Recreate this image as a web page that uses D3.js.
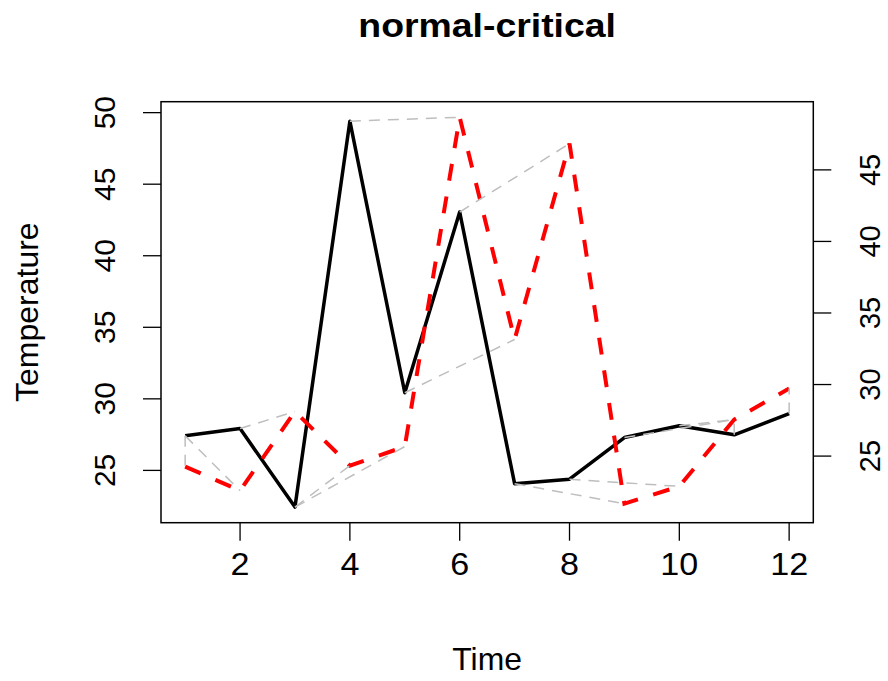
<!DOCTYPE html>
<html>
<head>
<meta charset="utf-8">
<script src="https://cdn.jsdelivr.net/npm/d3@7"></script>
<style>
    body { margin: 0; background: #ffffff; }
    text { font-family: "Liberation Sans", Arial, sans-serif; fill: #000000; }
</style>
</head>
<body>
<div id="chart"></div>
<script>
// time index and the two series (critical is read on the right axis)
var TIME = [1, 2, 3, 4, 5, 6, 7, 8, 9, 10, 11, 12];
var NORMAL = [27.38, 27.89, 22.4, 49.37, 30.39, 43.02, 24.04, 24.35, 27.26, 28.08, 27.45, 28.94];
var CRITICAL = [24.23, 22.55, 28.08, 24.3, 25.63, 48.64, 33.11, 46.8, 21.64, 22.85, 27.52, 29.69];
var OFFSET = 1;

// warping path: index into NORMAL -> index into CRITICAL
var MATCH_I = [1, 1, 2, 3, 3, 4, 5, 6, 7, 8, 9, 10, 11, 12];
var MATCH_J = [1, 2, 3, 4, 5, 6, 7, 8, 9, 10, 11, 11, 11, 12];

// tick labels
var X_TICKS = [2, 4, 6, 8, 10, 12];
var LEFT_TICKS = [25, 30, 35, 40, 45, 50];
var RIGHT_TICKS = [25, 30, 35, 40, 45];

var width = 888,
    height = 681;
var margin = { top: 101.7, right: 74.7, bottom: 158.3, left: 161 };

var svg = d3.select("#chart")
    .append("svg")
    .attr("width", width)
    .attr("height", height);

// R style ranges: data range padded by 4%
var xr = d3.extent(TIME),
    xpad = (xr[1] - xr[0]) * 0.04;
var allY = NORMAL.concat(CRITICAL.map(function (d) { return d + OFFSET; }));
var yr = d3.extent(allY),
    ypad = (yr[1] - yr[0]) * 0.04;

var x = d3.scaleLinear()
    .domain([xr[0] - xpad, xr[1] + xpad])
    .range([margin.left, width - margin.right]);

var y = d3.scaleLinear()
    .domain([yr[0] - ypad, yr[1] + ypad])
    .range([height - margin.bottom, margin.top]);

var yRight = d3.scaleLinear()
    .domain([yr[0] - ypad - OFFSET, yr[1] + ypad - OFFSET])
    .range([height - margin.bottom, margin.top]);

var tickLen = 18;

// bottom axis
var xAxis = svg.append("g")
    .attr("transform", "translate(0," + (height - margin.bottom) + ")")
    .call(d3.axisBottom(x).tickValues(X_TICKS).tickSize(tickLen).tickSizeOuter(0).tickPadding(5));
xAxis.select(".domain").remove();
xAxis.selectAll("line").attr("stroke-width", 1.3);
xAxis.selectAll("text")
    .attr("fill", "#000")
    .style("font-size", "31px")
    .attr("dy", "0.71em")
    .attr("transform", function (d) { return "translate(" + x(d) + ",0) scale(1.1,1) translate(" + (-x(d)) + ",0)"; });
xAxis.selectAll(".tick").attr("transform", null)
    .each(function (d) {
        d3.select(this).select("line").attr("x1", x(d)).attr("x2", x(d));
        d3.select(this).select("text").attr("x", x(d)).attr("y", tickLen + 34 - 31 * 0.71);
    });

// left axis
var yAxis = svg.append("g")
    .attr("transform", "translate(" + margin.left + ",0)")
    .call(d3.axisLeft(y).tickValues(LEFT_TICKS).tickSize(tickLen).tickSizeOuter(0));
yAxis.select(".domain").remove();
yAxis.selectAll("line").attr("stroke-width", 1.3);
yAxis.selectAll("text")
    .attr("fill", "#000")
    .style("font-size", "30px")
    .attr("text-anchor", "middle")
    .attr("x", 0).attr("dy", 0)
    .attr("transform", "translate(-46,0) rotate(-90)");

// right axis, labels shifted by the offset
var y2Axis = svg.append("g")
    .attr("transform", "translate(" + (width - margin.right) + ",0)")
    .call(d3.axisRight(yRight).tickValues(RIGHT_TICKS).tickSize(tickLen).tickSizeOuter(0));
y2Axis.select(".domain").remove();
y2Axis.selectAll("line").attr("stroke-width", 1.3);
y2Axis.selectAll("text")
    .attr("fill", "#000")
    .style("font-size", "29px")
    .attr("text-anchor", "middle")
    .attr("x", 0).attr("dy", 0)
    .attr("transform", "translate(67,0) rotate(-90)");

// box
svg.append("rect")
    .attr("x", margin.left)
    .attr("y", margin.top)
    .attr("width", width - margin.left - margin.right)
    .attr("height", height - margin.top - margin.bottom)
    .attr("fill", "none")
    .attr("stroke", "#000")
    .attr("stroke-width", 1.5);

// normal series
var line = d3.line()
    .x(function (d, i) { return x(TIME[i]); })
    .y(function (d) { return y(d); });

svg.append("path")
    .attr("d", line(NORMAL))
    .attr("fill", "none")
    .attr("stroke", "#000000")
    .attr("stroke-width", 3.5)
    .attr("stroke-linejoin", "round");

// critical series, plotted with the offset
svg.append("path")
    .attr("d", line(CRITICAL.map(function (d) { return d + OFFSET; })))
    .attr("fill", "none")
    .attr("stroke", "#ff0000")
    .attr("stroke-width", 4)
    .attr("stroke-dasharray", "17,16");

// matching segments
svg.append("g")
    .selectAll("line")
    .data(MATCH_I)
    .enter()
    .append("line")
    .attr("x1", function (d) { return x(TIME[d - 1]); })
    .attr("y1", function (d) { return y(NORMAL[d - 1]); })
    .attr("x2", function (d, k) { return x(TIME[MATCH_J[k] - 1]); })
    .attr("y2", function (d, k) { return y(CRITICAL[MATCH_J[k] - 1] + OFFSET); })
    .attr("stroke", "#bebebe")
    .attr("stroke-width", 1.5)
    .attr("stroke-dasharray", "11,8");

// titles
var cx = (margin.left + width - margin.right) / 2;
svg.append("text")
    .attr("x", cx)
    .attr("y", 37.5)
    .attr("text-anchor", "middle")
    .style("font-size", "34px")
    .style("font-weight", "bold")
    .attr("transform", "translate(" + cx + ",0) scale(1.1,1) translate(" + (-cx) + ",0)")
    .text("normal-critical");

svg.append("text")
    .attr("x", cx)
    .attr("y", 670)
    .attr("text-anchor", "middle")
    .style("font-size", "31px")
    .attr("transform", "translate(" + cx + ",0) scale(1.03,1) translate(" + (-cx) + ",0)")
    .text("Time");

svg.append("text")
    .attr("transform", "translate(38," + ((margin.top + height - margin.bottom) / 2) + ") rotate(-90)")
    .attr("text-anchor", "middle")
    .style("font-size", "32px")
    .text("Temperature");
</script>
</body>
</html>
